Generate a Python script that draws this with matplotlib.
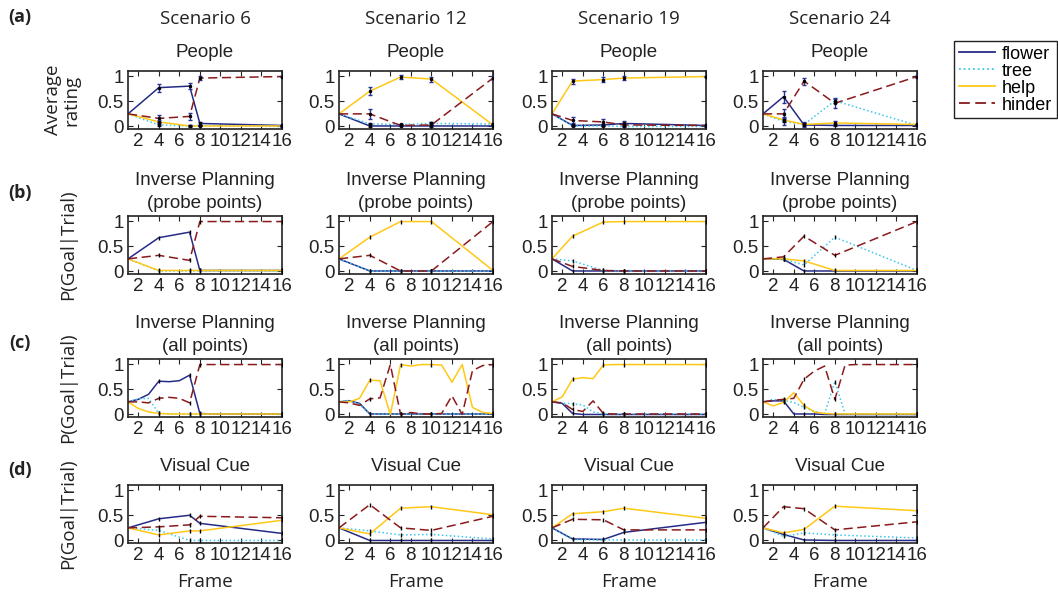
import matplotlib

matplotlib.use("Agg")
import matplotlib.pyplot as plt
from matplotlib.lines import Line2D

plt.rcParams["font.family"] = ["Liberation Sans", "DejaVu Sans"]

SCENARIOS = [6, 12, 19, 24]
SERIES = ["flower", "tree", "help", "hinder"]

# probe frames shown to people, per scenario
FRAMES = {
    6: [1, 4, 7, 8, 16],
    12: [1, 4, 7, 10, 16],
    19: [1, 3, 6, 8, 16],
    24: [1, 3, 5, 8, 16],
}
ALL_FRAMES = list(range(1, 17))

# (a) People: average rating at probe frames, with error bars
PEOPLE_6 = dict(flower=[0.25, 0.77, 0.80, 0.06, 0.02], tree=[0.25, 0.03, 0.01, 0.02, 0.0],
                help=[0.25, 0.09, 0.01, 0.01, 0.01], hinder=[0.25, 0.16, 0.20, 0.96, 0.99])
PEOPLE_12 = dict(flower=[0.25, 0.01, 0.01, 0.01, 0.01], tree=[0.25, 0.05, 0.04, 0.06, 0.05],
                 help=[0.25, 0.70, 0.98, 0.94, 0.03], hinder=[0.25, 0.25, 0.02, 0.03, 0.96])
PEOPLE_19 = dict(flower=[0.25, 0.02, 0.03, 0.06, 0.02], tree=[0.25, 0.01, 0.01, 0.0, 0.0],
                 help=[0.25, 0.90, 0.93, 0.96, 0.99], hinder=[0.25, 0.12, 0.09, 0.03, 0.02])
PEOPLE_24 = dict(flower=[0.25, 0.59, 0.03, 0.02, 0.02], tree=[0.25, 0.10, 0.04, 0.51, 0.02],
                 help=[0.25, 0.13, 0.04, 0.07, 0.04], hinder=[0.25, 0.25, 0.90, 0.46, 0.99])

PEOPLE_ERR_6 = dict(flower=[0, 0.08, 0.06, 0.03, 0.01], tree=[0, 0.02, 0.01, 0.01, 0.01],
                    help=[0, 0.03, 0.02, 0.01, 0.01], hinder=[0, 0.07, 0.07, 0.04, 0.01])
PEOPLE_ERR_12 = dict(flower=[0, 0.03, 0.01, 0.01, 0.01], tree=[0, 0.02, 0.01, 0.02, 0.01],
                     help=[0, 0.08, 0.04, 0.05, 0.02], hinder=[0, 0.10, 0.02, 0.05, 0.04])
PEOPLE_ERR_19 = dict(flower=[0, 0.02, 0.02, 0.04, 0.01], tree=[0, 0.01, 0.01, 0.01, 0.01],
                     help=[0, 0.05, 0.05, 0.04, 0.01], hinder=[0, 0.06, 0.05, 0.03, 0.01])
PEOPLE_ERR_24 = dict(flower=[0, 0.12, 0.03, 0.02, 0.01], tree=[0, 0.08, 0.05, 0.04, 0.01],
                     help=[0, 0.04, 0.02, 0.04, 0.01], hinder=[0, 0.10, 0.07, 0.10, 0.03])

# (b) Inverse planning, probe points
PROBE_6 = dict(flower=[0.25, 0.67, 0.78, 0.02, 0.02], tree=[0.25, 0.01, 0.01, 0.01, 0.01],
               help=[0.25, 0.02, 0.02, 0.02, 0.02], hinder=[0.25, 0.32, 0.22, 0.99, 0.99])
PROBE_12 = dict(flower=[0.25, 0.01, 0.01, 0.01, 0.01], tree=[0.25, 0.01, 0.01, 0.01, 0.01],
                help=[0.25, 0.68, 0.99, 0.99, 0.02], hinder=[0.25, 0.32, 0.01, 0.01, 0.99])
PROBE_19 = dict(flower=[0.25, 0.01, 0.01, 0.01, 0.01], tree=[0.25, 0.21, 0.02, 0.01, 0.01],
                help=[0.25, 0.70, 0.98, 0.99, 0.99], hinder=[0.25, 0.10, 0.02, 0.01, 0.01])
PROBE_24 = dict(flower=[0.25, 0.24, 0.01, 0.01, 0.01], tree=[0.25, 0.24, 0.13, 0.68, 0.02],
                help=[0.25, 0.25, 0.21, 0.02, 0.02], hinder=[0.25, 0.29, 0.70, 0.32, 0.99])

# (c) Inverse planning, all frames 1..16
ALL_6 = dict(
    flower=[0.25, 0.30, 0.40, 0.66, 0.65, 0.67, 0.78, 0.02, 0.01, 0.01, 0.01, 0.01, 0.01, 0.01, 0.01, 0.01],
    tree=[0.25, 0.31, 0.32, 0.02, 0.01, 0.01, 0.01, 0.01, 0.01, 0.01, 0.01, 0.01, 0.01, 0.01, 0.01, 0.01],
    help=[0.25, 0.12, 0.05, 0.02, 0.01, 0.01, 0.01, 0.01, 0.01, 0.01, 0.01, 0.01, 0.01, 0.01, 0.01, 0.01],
    hinder=[0.25, 0.25, 0.23, 0.32, 0.34, 0.32, 0.23, 0.99, 0.99, 0.99, 0.99, 0.99, 0.99, 0.99, 0.99, 0.99],
)
ALL_12 = dict(
    flower=[0.25, 0.27, 0.22, 0.01, 0.01, 0.01, 0.01, 0.01, 0.01, 0.01, 0.01, 0.01, 0.01, 0.01, 0.01, 0.01],
    tree=[0.25, 0.28, 0.20, 0.01, 0.01, 0.01, 0.01, 0.01, 0.01, 0.01, 0.01, 0.01, 0.01, 0.01, 0.01, 0.01],
    help=[0.25, 0.25, 0.32, 0.68, 0.67, 0.0, 0.99, 0.96, 0.99, 0.99, 0.98, 0.64, 0.99, 0.14, 0.04, 0.02],
    hinder=[0.25, 0.23, 0.18, 0.31, 0.33, 0.99, 0.0, 0.04, 0.01, 0.01, 0.02, 0.37, 0.0, 0.87, 0.97, 0.99],
)
ALL_19 = dict(
    flower=[0.25, 0.22, 0.02, 0.0, 0.0, 0.0, 0.0, 0.0, 0.0, 0.0, 0.0, 0.0, 0.0, 0.0, 0.0, 0.0],
    tree=[0.25, 0.23, 0.21, 0.19, 0.05, 0.01, 0.01, 0.01, 0.01, 0.01, 0.01, 0.01, 0.01, 0.01, 0.01, 0.01],
    help=[0.25, 0.35, 0.70, 0.73, 0.71, 0.98, 0.99, 0.99, 0.99, 0.99, 0.99, 0.99, 0.99, 0.99, 0.99, 0.99],
    hinder=[0.25, 0.23, 0.10, 0.06, 0.27, 0.02, 0.01, 0.01, 0.01, 0.01, 0.01, 0.01, 0.01, 0.01, 0.01, 0.01],
)
ALL_24 = dict(
    flower=[0.25, 0.27, 0.27, 0.01, 0.01, 0.01, 0.0, 0.0, 0.0, 0.0, 0.0, 0.0, 0.0, 0.0, 0.0, 0.0],
    tree=[0.25, 0.30, 0.28, 0.24, 0.14, 0.06, 0.02, 0.65, 0.01, 0.0, 0.0, 0.0, 0.0, 0.0, 0.0, 0.0],
    help=[0.25, 0.17, 0.24, 0.43, 0.18, 0.05, 0.02, 0.01, 0.01, 0.01, 0.01, 0.01, 0.01, 0.01, 0.01, 0.01],
    hinder=[0.25, 0.28, 0.30, 0.32, 0.70, 0.86, 0.96, 0.30, 0.98, 0.99, 0.99, 0.99, 0.99, 0.99, 0.99, 0.99],
)

# (d) Visual cue model, probe points
CUE_6 = dict(flower=[0.25, 0.43, 0.50, 0.34, 0.14], tree=[0.25, 0.20, 0.0, 0.0, 0.0],
             help=[0.25, 0.11, 0.19, 0.19, 0.40], hinder=[0.25, 0.27, 0.31, 0.48, 0.45])
CUE_12 = dict(flower=[0.25, 0.0, 0.0, 0.0, 0.0], tree=[0.25, 0.19, 0.11, 0.12, 0.03],
              help=[0.25, 0.13, 0.64, 0.67, 0.51], hinder=[0.25, 0.71, 0.25, 0.20, 0.48])
CUE_19 = dict(flower=[0.25, 0.03, 0.02, 0.16, 0.36], tree=[0.25, 0.02, 0.01, 0.01, 0.01],
              help=[0.25, 0.53, 0.57, 0.64, 0.44], hinder=[0.25, 0.42, 0.41, 0.21, 0.21])
CUE_24 = dict(flower=[0.25, 0.12, 0.01, 0.0, 0.0], tree=[0.25, 0.08, 0.15, 0.11, 0.05],
              help=[0.25, 0.15, 0.22, 0.68, 0.59], hinder=[0.25, 0.67, 0.63, 0.21, 0.37])

PEOPLE = {6: PEOPLE_6, 12: PEOPLE_12, 19: PEOPLE_19, 24: PEOPLE_24}
PEOPLE_ERR = {6: PEOPLE_ERR_6, 12: PEOPLE_ERR_12, 19: PEOPLE_ERR_19, 24: PEOPLE_ERR_24}
PROBE = {6: PROBE_6, 12: PROBE_12, 19: PROBE_19, 24: PROBE_24}
ALLPTS = {6: ALL_6, 12: ALL_12, 19: ALL_19, 24: ALL_24}
CUE = {6: CUE_6, 12: CUE_12, 19: CUE_19, 24: CUE_24}

STYLE = {
    "flower": dict(color="#262c86", linestyle="-"),
    "tree": dict(color="#3cc6f0", linestyle=(0, (1, 1.6))),
    "help": dict(color="#ffc816", linestyle="-"),
    "hinder": dict(color="#8a1a1c", linestyle=(0, (6, 3))),
}
LW = 1.1
ERR_COLOR = "#2a3390"
INK = "#222222"
HEAD_FONT = ["Open Sans", "DejaVu Sans"]
FS = 13.5

W, H = 1058, 595
COL_LEFT = [128, 339, 552, 763]
ROW_TOP = [71, 216, 359, 485]
AX_W, AX_H = 154, 58

fig = plt.figure(figsize=(W / 100, H / 100), dpi=100)


def make_axes(row, col):
    l, t = COL_LEFT[col], ROW_TOP[row]
    ax = fig.add_axes([l / W, 1 - (t + AX_H) / H, AX_W / W, AX_H / H])
    ax.set_xlim(1, 16)
    ax.set_ylim(-0.05, 1.1)
    ax.set_xticks(range(2, 17, 2))
    ax.set_yticks([0, 0.5, 1])
    ax.set_yticklabels(["0", "0.5", "1"])
    ax.tick_params(direction="in", top=True, right=True, length=3.5, width=0.8,
                   labelsize=FS, pad=3, colors=INK)
    for s in ax.spines.values():
        s.set_linewidth(1.2)
        s.set_color(INK)
    return ax


def draw_model(ax, x, data, mark_x):
    for name in SERIES:
        ax.plot(x, data[name], lw=LW, **STYLE[name])
    for name in SERIES:
        ys = [data[name][x.index(f)] for f in mark_x[1:]]
        ax.plot(mark_x[1:], ys, linestyle="none", marker="|", ms=3.5, mew=1.0,
                color="black", zorder=5)


titles = ["People", "Inverse Planning\n(probe points)", "Inverse Planning\n(all points)",
          "Visual Cue"]

for col, sc in enumerate(SCENARIOS):
    x = FRAMES[sc]
    # (a) people
    ax = make_axes(0, col)
    for name in SERIES:
        ax.plot(x, PEOPLE[sc][name], lw=LW, **STYLE[name])
    for name in SERIES:
        ax.errorbar(x[1:], PEOPLE[sc][name][1:], yerr=PEOPLE_ERR[sc][name][1:],
                    linestyle="none", ecolor=ERR_COLOR, elinewidth=1.0, capsize=1.5,
                    capthick=1.0, marker="o", ms=1.5, mfc="black", mec="black", zorder=5)
    ax.set_title(titles[0], fontsize=FS, pad=10, color=INK)
    # (b) probe points
    ax = make_axes(1, col)
    draw_model(ax, x, PROBE[sc], x)
    ax.set_title(titles[1], fontsize=FS, pad=6, color=INK, linespacing=1.4)
    # (c) all points
    ax = make_axes(2, col)
    draw_model(ax, ALL_FRAMES, ALLPTS[sc], x)
    ax.set_title(titles[2], fontsize=FS, pad=6, color=INK, linespacing=1.4)
    # (d) visual cue
    ax = make_axes(3, col)
    draw_model(ax, x, CUE[sc], x)
    ax.set_title(titles[3], fontsize=FS, pad=10, color=INK)

    cx = (COL_LEFT[col] + AX_W / 2) / W
    fig.text(cx, 1 - 19 / H, f"Scenario {sc}", ha="center", va="center",
             fontsize=FS, family=HEAD_FONT, color=INK)
    fig.text(cx, 1 - 582 / H, "Frame", ha="center", va="center",
             fontsize=FS, family=HEAD_FONT, color=INK)

# row labels and y labels
for lab, yc in zip(["(a)", "(b)", "(c)", "(d)"], [17, 193, 343, 470]):
    fig.text(20 / W, 1 - yc / H, lab, ha="center", va="center", fontsize=13,
             fontweight="bold", family=HEAD_FONT, color=INK)

fig.text(62 / W, 1 - (ROW_TOP[0] + AX_H / 2) / H, "Average\nrating", rotation=90,
         ha="center", va="center", fontsize=FS, family=HEAD_FONT, color=INK,
         linespacing=1.0)
for r in (1, 2, 3):
    fig.text(68 / W, 1 - (ROW_TOP[r] + AX_H / 2) / H, "P(Goal|Trial)", rotation=90,
             ha="center", va="center", fontsize=FS, family=HEAD_FONT, color=INK)

handles = [Line2D([], [], lw=1.3, **STYLE[n]) for n in SERIES]
leg = fig.legend(handles, SERIES, loc="upper right", bbox_to_anchor=(1057 / W, 1 - 41 / H),
                 frameon=True, fancybox=False, edgecolor=INK, framealpha=1,
                 fontsize=13, labelspacing=0.0, handlelength=2.0, handletextpad=0.4,
                 borderpad=0.25, borderaxespad=0)
leg.get_frame().set_linewidth(1.0)

fig.savefig("out.png", dpi=100)
